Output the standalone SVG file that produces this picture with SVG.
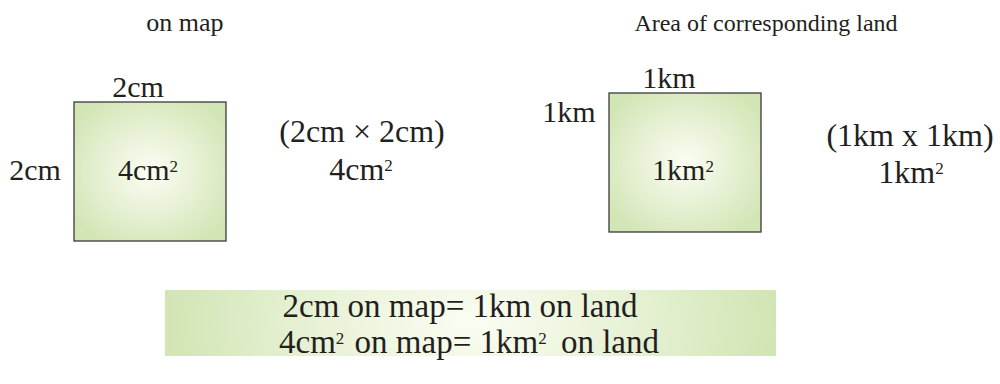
<svg xmlns="http://www.w3.org/2000/svg" width="1000" height="384" viewBox="0 0 1000 384">
<defs>
<radialGradient id="sq" cx="50%" cy="50%" r="62%">
<stop offset="0" stop-color="#fbfdf3"/>
<stop offset="0.45" stop-color="#e9f2d8"/>
<stop offset="1" stop-color="#d2e5b4"/>
</radialGradient>
<radialGradient id="bar" cx="50%" cy="50%" r="50%" gradientTransform="translate(0.5 0.5) scale(1 5) translate(-0.5 -0.5)">
<stop offset="0" stop-color="#fbfdf3"/>
<stop offset="0.6" stop-color="#e4f0d0"/>
<stop offset="1" stop-color="#d2e5b4"/>
</radialGradient>
<style>
text{font-family:"Liberation Serif","Times New Roman",serif;fill:#231f20;text-anchor:middle}
.t{font-size:26px}
.t2{font-size:24px}
.l{font-size:30px}
.c{font-size:32px}
.b{font-size:33px}
.sq{stroke:#3a3a3a;stroke-width:1.3;fill:url(#sq)}
.sup{font-size:17px}
</style>
</defs>
<g id="titles">
<text class="t" x="185" y="31">on map</text>
<text class="t2" x="766" y="31">Area of corresponding land</text>
</g>
<g id="map-square">
<rect class="sq" x="74" y="102" width="152" height="139"/>
<text class="l" x="138" y="97">2cm</text>
<text class="l" x="35" y="180">2cm</text>
<text class="l" x="148" y="180">4cm<tspan class="sup" dy="-8">2</tspan></text>
</g>
<g id="map-calc">
<text class="c" x="362" y="142">(2cm × 2cm)</text>
<text class="c" x="361" y="180">4cm<tspan class="sup" dy="-9">2</tspan></text>
</g>
<g id="land-square">
<rect class="sq" x="609" y="93" width="152" height="139"/>
<text class="l" x="669" y="88">1km</text>
<text class="l" x="569" y="122">1km</text>
<text class="l" x="683" y="180">1km<tspan class="sup" dy="-8">2</tspan></text>
</g>
<g id="land-calc">
<text class="c" x="910" y="146">(1km x 1km)</text>
<text class="c" x="911" y="183">1km<tspan class="sup" dy="-9">2</tspan></text>
</g>
<g id="scale-box">
<rect x="165" y="290" width="611" height="66" fill="url(#bar)"/>
<text class="b" x="460" y="317">2cm on map= 1km on land</text>
<text class="b" x="469" y="353">4cm<tspan class="sup" dy="-9">2</tspan><tspan dy="9" dx="2"> on map= 1km</tspan><tspan class="sup" dy="-9">2</tspan><tspan dy="9" dx="6"> on land</tspan></text>
</g>
<g id="connectors"></g>
</svg>
